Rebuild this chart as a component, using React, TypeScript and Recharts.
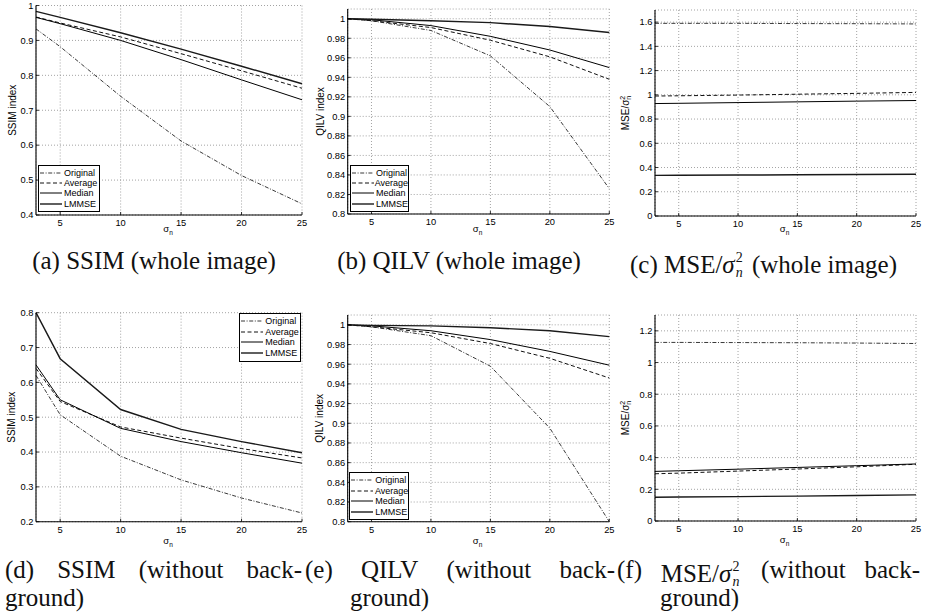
import React from 'react';
import { LineChart, Line, XAxis, YAxis, CartesianGrid, Legend } from 'recharts';

// noise level sigma_n (x axis, all panels)
const sigma = [3, 5, 10, 15, 20, 25];
const sigmaTicks = [5, 10, 15, 20, 25];

// (a) SSIM, whole image
const ssimWholeOriginal = [0.933, 0.882, 0.74, 0.612, 0.513, 0.432];
const ssimWholeAverage = [0.967, 0.95, 0.91, 0.862, 0.813, 0.763];
const ssimWholeMedian = [0.966, 0.948, 0.9, 0.845, 0.787, 0.73];
const ssimWholeLmmse = [0.983, 0.966, 0.922, 0.875, 0.826, 0.776];

// (b) QILV, whole image
const qilvWholeOriginal = [1.0, 0.998, 0.988, 0.962, 0.91, 0.826];
const qilvWholeAverage = [1.0, 0.998, 0.991, 0.978, 0.961, 0.938];
const qilvWholeMedian = [1.0, 0.999, 0.993, 0.982, 0.968, 0.95];
const qilvWholeLmmse = [1.0, 0.9995, 0.998, 0.996, 0.992, 0.986];

// (c) MSE / sigma^2, whole image
const mseWholeOriginal = [1.59, 1.59, 1.59, 1.588, 1.587, 1.585];
const mseWholeAverage = [0.99, 0.992, 0.998, 1.005, 1.012, 1.02];
const mseWholeMedian = [0.928, 0.93, 0.936, 0.942, 0.948, 0.953];
const mseWholeLmmse = [0.335, 0.336, 0.338, 0.34, 0.342, 0.344];

// (d) SSIM, without background
const ssimFgOriginal = [0.62, 0.507, 0.388, 0.32, 0.268, 0.225];
const ssimFgAverage = [0.64, 0.545, 0.472, 0.44, 0.41, 0.383];
const ssimFgMedian = [0.65, 0.55, 0.468, 0.43, 0.398, 0.368];
const ssimFgLmmse = [0.8, 0.668, 0.522, 0.465, 0.43, 0.398];

// (e) QILV, without background
const qilvFgOriginal = [1.0, 0.998, 0.989, 0.958, 0.895, 0.8];
const qilvFgAverage = [1.0, 0.998, 0.992, 0.981, 0.966, 0.946];
const qilvFgMedian = [1.0, 0.999, 0.994, 0.985, 0.973, 0.959];
const qilvFgLmmse = [1.0, 0.9995, 0.999, 0.997, 0.994, 0.988];

// (f) MSE / sigma^2, without background
const mseFgOriginal = [1.127, 1.127, 1.126, 1.125, 1.123, 1.12];
const mseFgAverage = [0.298, 0.302, 0.315, 0.328, 0.342, 0.358];
const mseFgMedian = [0.313, 0.317, 0.327, 0.338, 0.349, 0.36];
const mseFgLmmse = [0.15, 0.151, 0.154, 0.157, 0.161, 0.165];

const ssimWholeTicks = [0.4, 0.5, 0.6, 0.7, 0.8, 0.9, 1];
const ssimFgTicks = [0.2, 0.3, 0.4, 0.5, 0.6, 0.7, 0.8];
const qilvTicks = [0.8, 0.82, 0.84, 0.86, 0.88, 0.9, 0.92, 0.94, 0.96, 0.98, 1];
const mseWholeTicks = [0, 0.2, 0.4, 0.6, 0.8, 1, 1.2, 1.4, 1.6];
const mseFgTicks = [0, 0.2, 0.4, 0.6, 0.8, 1, 1.2];

const seriesNames = ['Original', 'Average', 'Median', 'LMMSE'];

const SANS = '"Liberation Sans", Arial, sans-serif';
const SERIF = '"Liberation Serif", "Times New Roman", serif';

const lineStyle: Record<string, { stroke: string; width: number; dash?: string }> = {
  Original: { stroke: '#222', width: 0.9, dash: '4 1.6 1 1.6' },
  Average: { stroke: '#111', width: 1, dash: '4 2.5' },
  Median: { stroke: '#000', width: 1 },
  LMMSE: { stroke: '#1a1a1a', width: 1.4 },
};

type PanelSpec = {
  key: string;
  left: number;
  top: number;
  width: number;
  height: number;
  marginTop: number;
  marginRight: number;
  yWidth: number;
  xHeight: number;
  yDomain: [number, number];
  yTicks: number[];
  yTitle: 'ssim' | 'qilv' | 'mse';
  yTitleX: number;
  xTitleDy: number;
  series: number[][];
  legend?: { x: number; y: number; w: number; h: number };
};

const panels: PanelSpec[] = [
  {
    key: 'a', left: 0, top: 0, width: 310, height: 245, marginTop: 5.5, marginRight: 8,
    yWidth: 36, xHeight: 30, yDomain: [0.4, 1], yTicks: ssimWholeTicks, yTitle: 'ssim',
    yTitleX: 12, xTitleDy: 17,
    series: [ssimWholeOriginal, ssimWholeAverage, ssimWholeMedian, ssimWholeLmmse],
    legend: { x: 38, y: 164.5, w: 62, h: 47 },
  },
  {
    key: 'b', left: 305, top: 0, width: 310, height: 245, marginTop: 9, marginRight: 5.7,
    yWidth: 42.7, xHeight: 31, yDomain: [0.8, 1.01], yTicks: qilvTicks, yTitle: 'qilv',
    yTitleX: 15, xTitleDy: 18,
    series: [qilvWholeOriginal, qilvWholeAverage, qilvWholeMedian, qilvWholeLmmse],
    legend: { x: 45, y: 164.5, w: 59, h: 47 },
  },
  {
    key: 'c', left: 615, top: 0, width: 313, height: 245, marginTop: 10, marginRight: 12,
    yWidth: 40, xHeight: 29, yDomain: [0, 1.7], yTicks: mseWholeTicks, yTitle: 'mse',
    yTitleX: 10, xTitleDy: 16,
    series: [mseWholeOriginal, mseWholeAverage, mseWholeMedian, mseWholeLmmse],
  },
  {
    key: 'd', left: 0, top: 300, width: 310, height: 250, marginTop: 12.7, marginRight: 8,
    yWidth: 36, xHeight: 28.3, yDomain: [0.2, 0.8], yTicks: ssimFgTicks, yTitle: 'ssim',
    yTitleX: 12, xTitleDy: 22,
    series: [ssimFgOriginal, ssimFgAverage, ssimFgMedian, ssimFgLmmse],
    legend: { x: 239.3, y: 13.3, w: 62, h: 49 },
  },
  {
    key: 'e', left: 305, top: 300, width: 310, height: 250, marginTop: 15, marginRight: 5.7,
    yWidth: 42.7, xHeight: 28.3, yDomain: [0.8, 1.01], yTicks: qilvTicks, yTitle: 'qilv',
    yTitleX: 15, xTitleDy: 22,
    series: [qilvFgOriginal, qilvFgAverage, qilvFgMedian, qilvFgLmmse],
    legend: { x: 44.3, y: 172.3, w: 60, h: 48 },
  },
  {
    key: 'f', left: 615, top: 300, width: 313, height: 250, marginTop: 15, marginRight: 12,
    yWidth: 40, xHeight: 29, yDomain: [0, 1.3], yTicks: mseFgTicks, yTitle: 'mse',
    yTitleX: 10, xTitleDy: 22,
    series: [mseFgOriginal, mseFgAverage, mseFgMedian, mseFgLmmse],
  },
];

// matlab style ticks: short marks pointing into the box
const BottomTick = (props: any) => {
  const { x, y, payload } = props;
  return (
    <g>
      <line x1={x} x2={x} y1={y} y2={y - 3} stroke="#000" strokeWidth={0.8} />
      <text x={x} y={y + 11} textAnchor="middle" fontSize={9.3} fontFamily={SANS} fill="#000">
        {payload.value}
      </text>
    </g>
  );
};

const LeftTick = (props: any) => {
  const { x, y, payload } = props;
  return (
    <g>
      <line x1={x} x2={x + 3} y1={y} y2={y} stroke="#000" strokeWidth={0.8} />
      <text x={x - 2.5} y={y + 3.3} textAnchor="end" fontSize={9.3} fontFamily={SANS} fill="#000">
        {String(payload.value)}
      </text>
    </g>
  );
};

const TopTick = (props: any) => (
  <line x1={props.x} x2={props.x} y1={props.y} y2={props.y + 3} stroke="#000" strokeWidth={0.8} />
);

const RightTick = (props: any) => (
  <line x1={props.x} x2={props.x - 3} y1={props.y} y2={props.y} stroke="#000" strokeWidth={0.8} />
);

const sigmaTitle = (dy: number) => ({
  content: (p: any) => {
    const vb = p.viewBox;
    const cx = vb.x + vb.width / 2 - 1;
    return (
      <text x={cx} y={vb.y + dy} textAnchor="middle" fontFamily={SANS} fontSize={9.5} fill="#000">
        σ<tspan fontSize={6.5} dy={3}>n</tspan>
      </text>
    );
  },
});

const yTitle = (kind: string, offsetX: number) => ({
  content: (p: any) => {
    const vb = p.viewBox;
    const cx = vb.x + offsetX;
    const cy = vb.y + vb.height / 2;
    let body: React.ReactNode;
    if (kind === 'ssim') body = 'SSIM index';
    else if (kind === 'qilv') body = 'QILV index';
    else
      body = (
        <>
          MSE/σ
          <tspan dy={-3.5} fontSize={7}>2</tspan>
          <tspan dx={-3.9} dy={6.5} fontSize={7}>n</tspan>
        </>
      );
    return (
      <text
        x={cx}
        y={cy}
        transform={`rotate(-90 ${cx} ${cy})`}
        textAnchor="middle"
        dominantBaseline="central"
        fontFamily={SANS}
        fontSize={10}
        fill="#000"
      >
        {body}
      </text>
    );
  },
});

const LegendBox = ({ w, h }: { w: number; h: number }) => (
  <div
    style={{
      width: w,
      height: h,
      boxSizing: 'border-box',
      border: '1.3px solid #000',
      background: '#fff',
      paddingTop: 2,
      fontFamily: SANS,
      fontSize: 9,
      color: '#000',
    }}
  >
    {seriesNames.map((name) => {
      const st = lineStyle[name];
      return (
        <div key={name} style={{ display: 'flex', alignItems: 'center', height: 10.4 }}>
          <svg width={24} height={6} style={{ marginLeft: 1 }}>
            <line x1={0} y1={3} x2={22} y2={3} stroke={st.stroke} strokeWidth={st.width} strokeDasharray={st.dash} />
          </svg>
          <span style={{ lineHeight: '10px' }}>{name}</span>
        </div>
      );
    })}
  </div>
);

const Panel = ({ spec }: { spec: PanelSpec }) => {
  const rows = sigma.map((s, i) => {
    const row: Record<string, number> = { s };
    seriesNames.forEach((name, k) => {
      row[name] = spec.series[k][i];
    });
    return row;
  });
  return (
    <div style={{ position: 'absolute', left: spec.left, top: spec.top }}>
      <LineChart
        width={spec.width}
        height={spec.height}
        data={rows}
        margin={{ top: spec.marginTop, right: spec.marginRight, bottom: 0, left: 0 }}
      >
        <CartesianGrid stroke="#8c8c8c" strokeWidth={0.8} strokeDasharray="1 2" />
        <XAxis
          dataKey="s"
          type="number"
          domain={[3, 25]}
          ticks={sigmaTicks}
          interval={0}
          height={spec.xHeight}
          tickSize={0}
          tickMargin={0}
          tickLine={false}
          axisLine={{ stroke: '#000', strokeWidth: 1.1 }}
          tick={BottomTick}
          label={sigmaTitle(spec.xTitleDy)}
        />
        <XAxis
          xAxisId="top"
          orientation="top"
          dataKey="s"
          type="number"
          domain={[3, 25]}
          ticks={sigmaTicks}
          interval={0}
          height={0}
          tickSize={0}
          tickMargin={0}
          tickLine={false}
          axisLine={{ stroke: '#000', strokeWidth: 1.1 }}
          tick={TopTick}
        />
        <YAxis
          type="number"
          domain={spec.yDomain}
          ticks={spec.yTicks}
          interval={0}
          allowDataOverflow
          width={spec.yWidth}
          tickSize={0}
          tickMargin={0}
          tickLine={false}
          axisLine={{ stroke: '#000', strokeWidth: 1.1 }}
          tick={LeftTick}
          label={yTitle(spec.yTitle, spec.yTitleX)}
        />
        <YAxis
          yAxisId="right"
          orientation="right"
          type="number"
          domain={spec.yDomain}
          ticks={spec.yTicks}
          interval={0}
          allowDataOverflow
          width={0}
          tickSize={0}
          tickMargin={0}
          tickLine={false}
          axisLine={{ stroke: '#000', strokeWidth: 1.1 }}
          tick={RightTick}
        />
        {seriesNames.map((name) => (
          <Line
            key={name}
            type="linear"
            dataKey={name}
            stroke={lineStyle[name].stroke}
            strokeWidth={lineStyle[name].width}
            strokeDasharray={lineStyle[name].dash}
            dot={false}
            activeDot={false}
            isAnimationActive={false}
          />
        ))}
        {spec.legend && (
          <Legend
            layout="vertical"
            align="center"
            verticalAlign="middle"
            wrapperStyle={{ left: spec.legend.x, top: spec.legend.y, width: spec.legend.w, height: spec.legend.h }}
            content={() => <LegendBox w={spec.legend!.w} h={spec.legend!.h} />}
          />
        )}
      </LineChart>
    </div>
  );
};

// superscript 2 over subscript n, sized for the 25px caption font
const Scripts = () => (
  <span style={{ display: 'inline-block', position: 'relative', width: 11, height: 25 }}>
    <span style={{ position: 'absolute', left: 1, top: 5.2, fontSize: 14, lineHeight: '9px' }}>2</span>
    <span style={{ position: 'absolute', left: 1, top: 20.5, fontSize: 14, lineHeight: '9px', fontStyle: 'italic' }}>n</span>
  </span>
);

const MseMath = () => (
  <>
    MSE/<i>σ</i>
    <Scripts />
  </>
);

const capBase: React.CSSProperties = {
  position: 'absolute',
  fontFamily: SERIF,
  fontSize: 25,
  lineHeight: '25px',
  whiteSpace: 'nowrap',
  color: '#111',
};

const TopCaption = ({ left, width, children }: { left: number; width: number; children: React.ReactNode }) => (
  <div style={{ ...capBase, left, top: 247.6, width, textAlign: 'center' }}>{children}</div>
);

const JustLine = ({ left, width, words }: { left: number; width: number; words: React.ReactNode[] }) => (
  <div style={{ ...capBase, left, top: 556.5, width, display: 'flex', justifyContent: 'space-between' }}>
    {words.map((w, i) => (
      <span key={i}>{w}</span>
    ))}
  </div>
);

const SecondLine = ({ left }: { left: number }) => (
  <div style={{ ...capBase, left, top: 590, lineHeight: '16px' }}>ground)</div>
);

export default function App() {
  return (
    <div
      style={{
        position: 'absolute',
        left: 0,
        top: 0,
        width: 928,
        height: 614,
        background: '#fff',
        overflow: 'hidden',
      }}
    >
      {panels.map((p) => (
        <Panel key={p.key} spec={p} />
      ))}
      <TopCaption left={30} width={248}>(a) SSIM (whole image)</TopCaption>
      <TopCaption left={333} width={252}>(b) QILV (whole image)</TopCaption>
      <TopCaption left={630} width={267}>
        (c) <MseMath /> (whole image)
      </TopCaption>
      <JustLine left={5} width={297} words={['(d)', 'SSIM', '(without', 'back-']} />
      <JustLine left={305} width={310} words={['(e)', 'QILV', '(without', 'back-']} />
      <JustLine left={617} width={303} words={['(f)', <MseMath key="m" />, '(without', 'back-']} />
      <SecondLine left={5} />
      <SecondLine left={350} />
      <SecondLine left={660} />
    </div>
  );
}
